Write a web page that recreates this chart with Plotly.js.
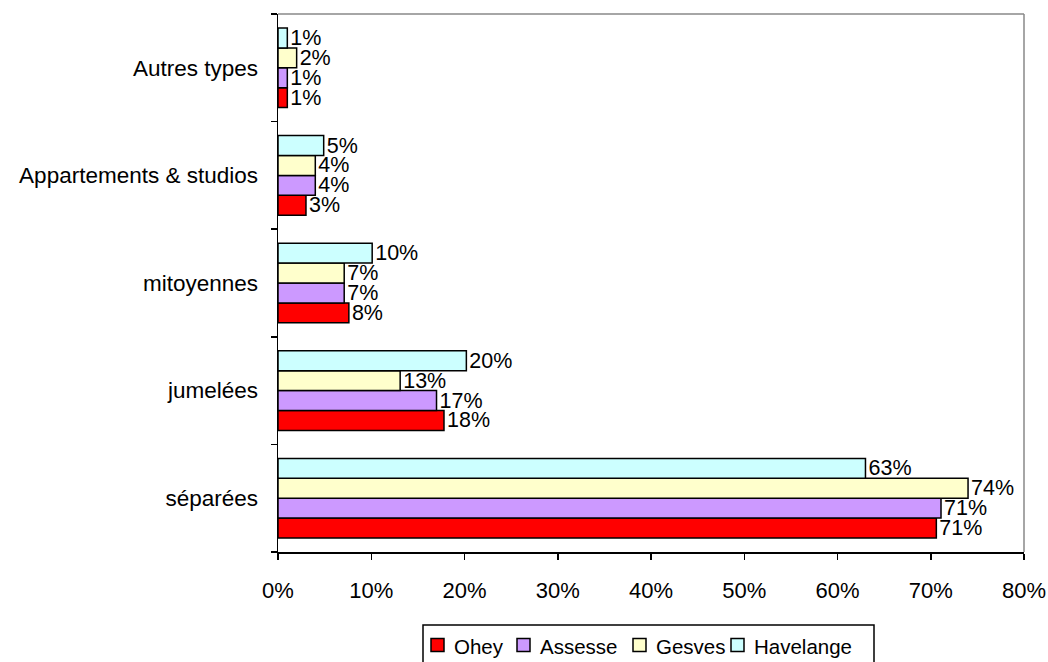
<!DOCTYPE html>
<html><head><meta charset="utf-8">
<script src="https://cdn.plot.ly/plotly-3.0.1.min.js"></script>
<style>html,body{margin:0;padding:0;background:#fff}#chart{width:1048px;height:662px}</style>
</head><body><div id="chart"></div>
<script>
const categories = ["séparées", "jumelées", "mitoyennes", "Appartements & studios", "Autres types"];
const seriesNames = ["Ohey", "Assesse", "Gesves", "Havelange"];
const ohey = [70.6, 17.8, 7.6, 3.0, 1.0];
const assesse = [71.1, 17.0, 7.1, 4.0, 1.0];
const gesves = [74.0, 13.1, 7.1, 4.0, 2.0];
const havelange = [63.0, 20.2, 10.1, 4.9, 1.0];
const xTickVals = [0, 10, 20, 30, 40, 50, 60, 70, 80];
const xTickText = ["0%", "10%", "20%", "30%", "40%", "50%", "60%", "70%", "80%"];
const colors = ["#ff0000", "#cc99ff", "#ffffcc", "#ccffff"];

const W = 1048, H = 662, ML = 278, MR = 24, MT = 14, MB = 110;
const PW = W - ML - MR, PH = H - MT - MB;
const px2x = p => (p - ML) / PW;
const px2y = p => (H - MB - p) / PH;

const allValues = [ohey, assesse, gesves, havelange];
const traces = allValues.map((vals, i) => ({
  type: 'bar', orientation: 'h', name: seriesNames[i],
  y: categories, x: vals,
  text: vals.map(v => Math.round(v) + '%'),
  textposition: 'outside', cliponaxis: false, constraintext: 'none',
  textfont: {family: 'Liberation Sans, Arial, sans-serif', size: 21.5, color: '#000'},
  marker: {color: colors[i], line: {color: '#000', width: 1.5}},
  hoverinfo: 'none', showlegend: false
}));

// custom legend (box, swatches, labels)
const legendSwatchX = [431, 517, 633, 731];
const legendTextX = [452, 538, 654, 752];
const legendCY = 645;
const shapes = [
  {type: 'line', xref: 'paper', yref: 'paper', x0: 0, x1: 1, y0: 1, y1: 1, line: {color: '#888', width: 1.5}},
  {type: 'line', xref: 'paper', yref: 'paper', x0: 1, x1: 1, y0: 0, y1: 1, line: {color: '#888', width: 1.5}},
  {type: 'rect', xref: 'paper', yref: 'paper', x0: px2x(423), x1: px2x(874), y0: px2y(625), y1: px2y(666),
   line: {color: '#000', width: 1.5}, fillcolor: 'rgba(0,0,0,0)', layer: 'above'}
];
const annotations = [];
seriesNames.forEach((n, i) => {
  shapes.push({type: 'rect', xref: 'paper', yref: 'paper',
    x0: px2x(legendSwatchX[i]), x1: px2x(legendSwatchX[i] + 13),
    y0: px2y(legendCY - 6.5), y1: px2y(legendCY + 6.5),
    line: {color: '#000', width: 1.5}, fillcolor: colors[i], layer: 'above'});
  annotations.push({xref: 'paper', yref: 'paper', x: px2x(legendTextX[i]), y: px2y(legendCY + 1),
    xanchor: 'left', yanchor: 'middle', text: n, showarrow: false,
    font: {size: 20.5, color: '#000'}});
});

const layout = {
  width: W, height: H,
  margin: {l: ML, r: MR, t: MT, b: MB, autoexpand: false},
  paper_bgcolor: '#fff', plot_bgcolor: '#fff',
  font: {family: 'Liberation Sans, Arial, sans-serif', size: 22, color: '#000'},
  barmode: 'group', bargap: 0.26, bargroupgap: 0,
  showlegend: false,
  xaxis: {range: [0, 80], tickvals: xTickVals, ticktext: xTickText,
    showgrid: false, zeroline: false, showline: true, linecolor: '#000', linewidth: 1.5,
    ticks: 'outside', ticklen: 6, tickcolor: '#000', tickwidth: 1.5, ticklabelstandoff: 12,
    tickfont: {size: 22}, fixedrange: true, automargin: false},
  yaxis: {type: 'category', categoryorder: 'array', categoryarray: categories,
    showgrid: false, zeroline: false, showline: true, linecolor: '#000', linewidth: 1.5,
    ticks: 'outside', ticklen: 6, tickcolor: '#000', tickwidth: 1.5, tickson: 'boundaries',
    ticklabelstandoff: 14, tickfont: {size: 22.5}, fixedrange: true, automargin: false},
  shapes: shapes,
  annotations: annotations
};
Plotly.newPlot('chart', traces, layout, {displayModeBar: false, staticPlot: true});
</script></body></html>
